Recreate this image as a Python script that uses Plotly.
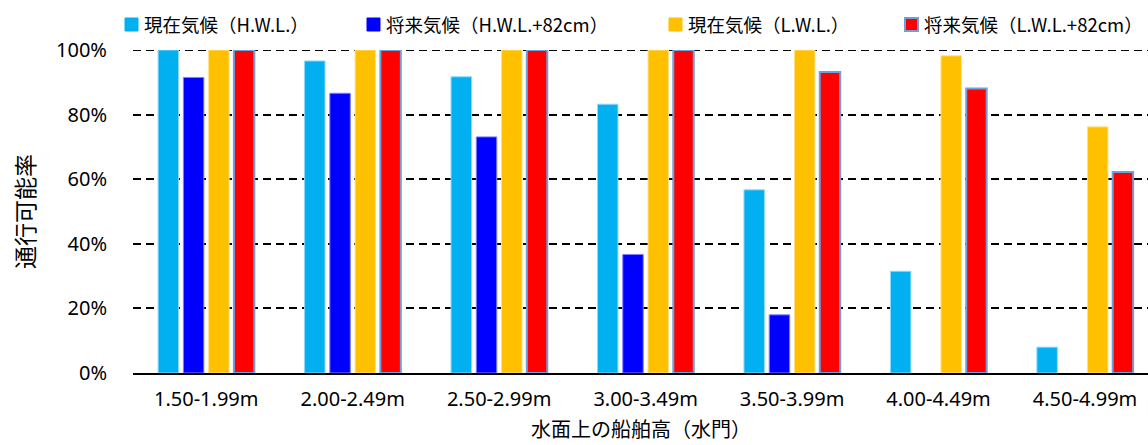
import plotly.graph_objects as go

# Ship height above water surface (water gate) classes
categories = ["1.50-1.99m", "2.00-2.49m", "2.50-2.99m", "3.00-3.49m",
              "3.50-3.99m", "4.00-4.49m", "4.50-4.99m"]

# Navigable rate (%) for each scenario
current_hwl = [100, 96.6, 91.7, 83.2, 56.7, 31.5, 8.0]
future_hwl = [91.5, 86.6, 73.1, 36.7, 18.0, 0, 0]
current_lwl = [100, 100, 100, 100, 100, 98.2, 76.2]
future_lwl = [100, 100, 100, 100, 93.2, 88.1, 62.2]

series_names = ["現在気候（H.W.L.）", "将来気候（H.W.L.+82cm）",
                "現在気候（L.W.L.）", "将来気候（L.W.L.+82cm）"]
series_values = [current_hwl, future_hwl, current_lwl, future_lwl]

y_tick_vals = [0, 20, 40, 60, 80, 100]
y_tick_text = ["0%", "20%", "40%", "60%", "80%", "100%"]

x_title = "水面上の船舶高（水門）"
y_title = "通行可能率"

fill_colors = ["#00B0F0", "#0000FF", "#FFC000", "#FF0000"]
edge_colors = ["#8FD8F5", "#7F7FFF", "#FFE08A", "#6FA0D8"]
edge_widths = [1, 1, 1, 2]

jp_font = "Noto Sans CJK JP"
num_font = "Noto Sans, Noto Sans CJK JP"

# plot-area geometry in pixels
W, H = 1148, 445
L, R, T, B = 133, 0, 50, 72
plot_w = W - L - R
plot_h = H - T - B


def px_to_paper_x(px):
    return (px - L) / plot_w


def px_to_paper_y(py):
    return (H - B - py) / plot_h


fig = go.Figure()
for name, vals, fc, ec, ew in zip(series_names, series_values,
                                  fill_colors, edge_colors, edge_widths):
    fig.add_trace(go.Bar(
        x=categories, y=vals, name=name,
        marker=dict(color=fc,
                    line=dict(color=ec,
                              width=[ew if v > 0 else 0 for v in vals])),
    ))

# dashed 100% line along the top of the plot area
fig.add_shape(type="line", xref="paper", yref="y", x0=0, x1=1, y0=100, y1=100,
              line=dict(color="#000000", width=2, dash="8px,5px"),
              layer="below")

# legend row across the top: square swatch followed by the series name
legend_x_px = [125, 367, 669, 905]
legend_y_px = 24.5
swatch = 13
for name, fc, ec, ew, x0 in zip(series_names, fill_colors, edge_colors,
                                edge_widths, legend_x_px):
    fig.add_shape(
        type="rect", xref="paper", yref="paper",
        x0=px_to_paper_x(x0), x1=px_to_paper_x(x0 + swatch),
        y0=px_to_paper_y(legend_y_px + swatch / 2),
        y1=px_to_paper_y(legend_y_px - swatch / 2),
        fillcolor=fc, line=dict(color=ec if ew > 1 else fc, width=ew),
    )
    fig.add_annotation(
        xref="paper", yref="paper", x=px_to_paper_x(x0 + swatch + 4),
        y=px_to_paper_y(legend_y_px), xanchor="left", yanchor="middle",
        text=name, showarrow=False,
        font=dict(family=jp_font, size=18.5, color="#000000"),
    )

# x-axis title placed along the bottom edge
fig.add_annotation(
    xref="paper", yref="paper", x=0.5, y=px_to_paper_y(H),
    xanchor="center", yanchor="bottom", text=x_title, showarrow=False,
    font=dict(family=jp_font, size=20, color="#000000"),
)

fig.update_layout(
    width=W, height=H,
    margin=dict(l=L, r=R, t=T, b=B),
    paper_bgcolor="white", plot_bgcolor="white",
    barmode="group", bargap=0.31, bargroupgap=0.19,
    font=dict(family=num_font, size=20, color="#000000"),
    showlegend=False,
)

fig.update_xaxes(
    type="category", range=[-0.5, 6.43],
    showline=True, linecolor="#000000", linewidth=2,
    showgrid=False, ticks="", ticklabelstandoff=7,
    tickfont=dict(family=num_font, size=20),
)

fig.update_yaxes(
    range=[0, 100], tickvals=y_tick_vals, ticktext=y_tick_text,
    showgrid=True, gridcolor="#000000", gridwidth=2, griddash="8px,5px",
    zeroline=False, showline=False, ticks="", ticklabelstandoff=25,
    tickfont=dict(family=num_font, size=20),
    title=dict(text=y_title, font=dict(family=jp_font, size=23),
               standoff=14),
)

fig.write_html("out.html")
